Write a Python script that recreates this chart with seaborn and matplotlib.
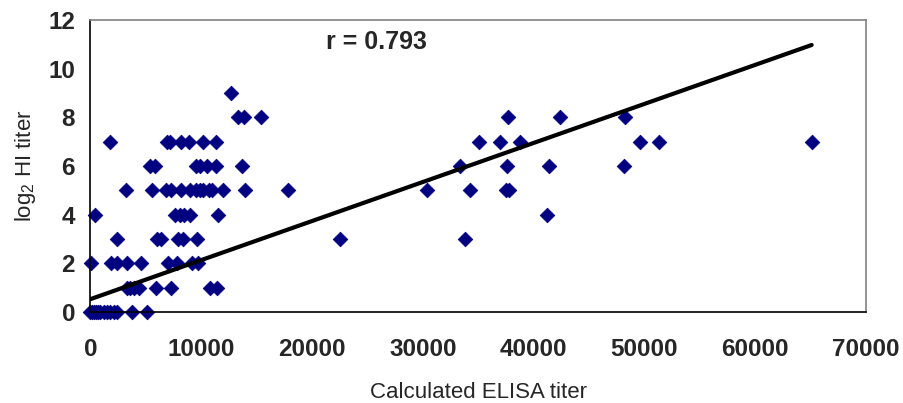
import pandas as pd
import matplotlib
matplotlib.use("Agg")
import matplotlib.pyplot as plt
import seaborn as sns

# ELISA titers, grouped by their log2 HI titer
elisa_hi0 = [0, 150, 300, 500, 700, 900, 1200, 1500, 1800, 2100, 2400, 3800, 5100]
elisa_hi1 = [3300, 3600, 3900, 4400, 5900, 7300, 10800, 11400]
elisa_hi2 = [100, 1900, 2400, 3300, 4600, 7000, 7800, 9200, 9700]
elisa_hi3 = [2400, 6000, 6400, 7900, 8400, 9600, 22500, 33800]
elisa_hi4 = [400, 7600, 8100, 8500, 9000, 11500, 41200]
elisa_hi5 = [3200, 5600, 6800, 7300, 8200, 9000, 9500, 9900, 10200, 10700,
             11000, 12000, 14000, 17800, 30400, 34300, 37500, 37800]
elisa_hi6 = [5400, 5800, 9500, 9900, 10500, 11300, 13700, 33400, 37600, 41400, 48200]
elisa_hi7 = [1800, 6900, 7200, 8200, 8900, 10200, 11300, 35100, 37000, 38800,
             49600, 51300, 65100]
elisa_hi8 = [13300, 13900, 15400, 37700, 42400, 48300]
elisa_hi9 = [12700]
hi_levels = [0, 1, 2, 3, 4, 5, 6, 7, 8, 9]

# regression line end points
fit_x = [0, 65100]
fit_y = [0.53, 10.97]

x_ticks = [0, 10000, 20000, 30000, 40000, 50000, 60000, 70000]
y_ticks = [0, 2, 4, 6, 8, 10, 12]

groups = [elisa_hi0, elisa_hi1, elisa_hi2, elisa_hi3, elisa_hi4,
          elisa_hi5, elisa_hi6, elisa_hi7, elisa_hi8, elisa_hi9]
rows = []
for level, xs in zip(hi_levels, groups):
    for x in xs:
        rows.append({"elisa": x, "hi": level})
df = pd.DataFrame(rows)
fit = pd.DataFrame({"elisa": fit_x, "hi": fit_y})

sns.set_style("white")
plt.rcParams['font.family'] = ['Liberation Sans', 'DejaVu Sans']
plt.rcParams['mathtext.fontset'] = 'custom'
plt.rcParams['mathtext.rm'] = 'Liberation Sans'
plt.rcParams['mathtext.default'] = 'rm'

fig = plt.figure(figsize=(9.04, 4.03), dpi=100)
ax = fig.add_axes([0.0999, 0.2256, 0.858, 0.725])

sns.scatterplot(data=df, x="elisa", y="hi", marker="D", s=56, color="#000080",
                edgecolor="#000080", linewidth=0.5, ax=ax, zorder=2, clip_on=False)
sns.lineplot(data=fit, x="elisa", y="hi", color="black", linewidth=3,
             sort=False, ax=ax, zorder=3)

ax.text(25800, 11.08, "r = 0.793", ha="center", va="center",
        fontsize=18, fontweight="bold")

ax.set_xlim(0, 70000)
ax.set_ylim(0, 12)
ax.set_xticks(x_ticks)
ax.set_yticks(y_ticks)
ax.set_xticklabels([str(t) for t in x_ticks], fontsize=17.5, fontweight="bold")
ax.set_yticklabels([str(t) for t in y_ticks], fontsize=17.5, fontweight="bold")
ax.tick_params(axis="x", direction="out", length=5, width=1, pad=14, color="black")
ax.tick_params(axis="y", direction="inout", length=10, width=1, pad=6, color="black")

ax.set_xlabel("Calculated ELISA titer", fontsize=16, labelpad=15)
ax.set_ylabel("log$_2$ HI titer", fontsize=16, labelpad=7)

for side in ["left", "bottom"]:
    ax.spines[side].set_color("black")
    ax.spines[side].set_linewidth(1.2)
for side in ["top", "right"]:
    ax.spines[side].set_color("#808080")
    ax.spines[side].set_linewidth(1.2)

fig.savefig("out.png", dpi=100)
